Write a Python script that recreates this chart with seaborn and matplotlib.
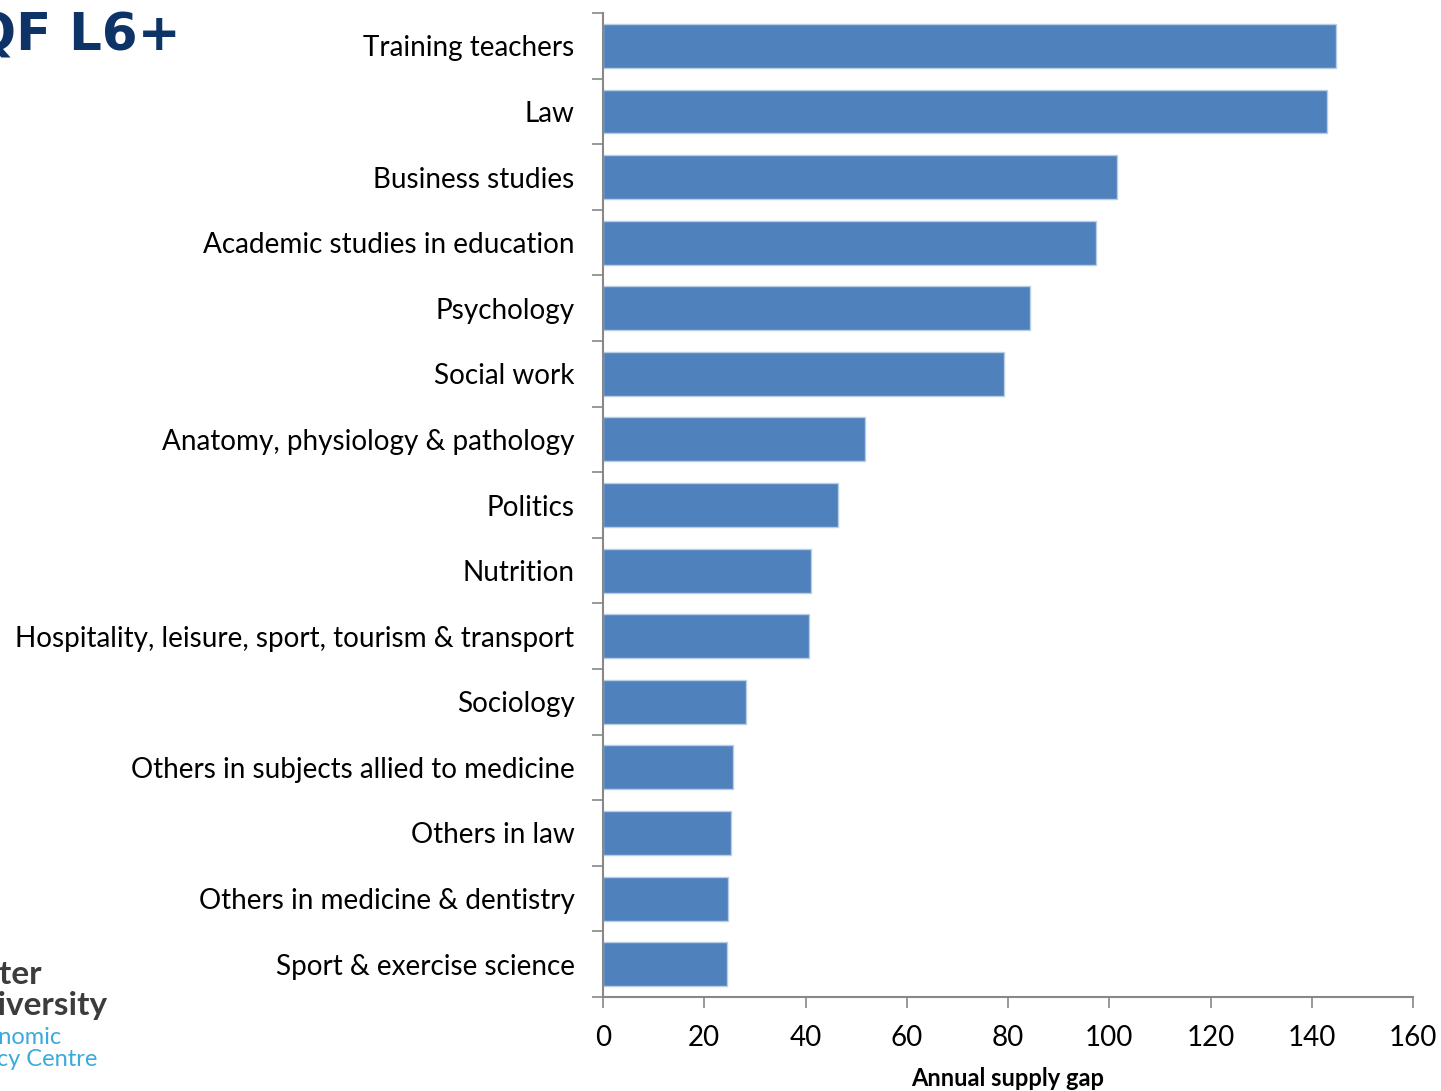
import pandas as pd
import seaborn as sns
import matplotlib.pyplot as plt
from matplotlib.ticker import FixedLocator

# Data
subjects = ['Training teachers', 'Law', 'Business studies', 'Academic studies in education',
            'Psychology', 'Social work', 'Anatomy, physiology & pathology', 'Politics',
            'Nutrition', 'Hospitality, leisure, sport, tourism & transport', 'Sociology',
            'Others in subjects allied to medicine', 'Others in law',
            'Others in medicine & dentistry', 'Sport & exercise science']
supply_gap = [144.8, 143.0, 101.5, 97.4, 84.3, 79.2, 51.8, 46.4, 41.1, 40.7,
              28.2, 25.7, 25.3, 24.7, 24.5]
x_ticks = [0, 20, 40, 60, 80, 100, 120, 140, 160]

df = pd.DataFrame({'subject': subjects, 'gap': supply_gap})

sns.set_style('white')
plt.rcParams['font.family'] = ['Lato', 'DejaVu Sans']

fig = plt.figure(figsize=(14.41, 10.91), dpi=100)
ax = fig.add_axes([0.4185, 0.0862, 0.5621, 0.9018])

sns.barplot(data=df, x='gap', y='subject', orient='h', color='#4F81BD',
            width=0.67, edgecolor='#B9CDE5', linewidth=1, saturation=1, ax=ax)

ax.set_xlim(0, 160)
ax.set_ylim(len(subjects) - 0.5, -0.5)
ax.set_xticks(x_ticks)
ax.set_xticklabels([str(t) for t in x_ticks], fontsize=20)
ax.set_yticks(range(len(subjects)))
ax.set_yticklabels(subjects, fontsize=20.1, color='black')
ax.tick_params(axis='y', which='major', left=False, pad=17)
# category boundary ticks on the y axis
ax.yaxis.set_minor_locator(FixedLocator([i - 0.5 for i in range(len(subjects) + 1)]))
ax.tick_params(axis='y', which='minor', left=True, length=8, color='#888888', width=1.2)
ax.tick_params(axis='x', bottom=True, length=8, color='#888888', width=1.2, pad=12,
               labelcolor='black')

for s in ['top', 'right']:
    ax.spines[s].set_visible(False)
for s in ['left', 'bottom']:
    ax.spines[s].set_color('#888888')
    ax.spines[s].set_linewidth(1.5)

ax.set_ylabel('')
ax.set_xlabel('Annual supply gap', fontsize=17, fontweight='bold', labelpad=12,
              color='black')

# cropped title and logo text at the left edge
fig.text(181 / 1441, 1 - 37 / 1091, 'RQF L6+', ha='right', va='center', fontsize=37,
         fontweight='bold', color='#0E3366', family='DejaVu Sans')
fig.text(42 / 1441, 1 - 975 / 1091, 'Ulster', ha='right', va='center', fontsize=24,
         fontweight='bold', color='#3C3C3C')
fig.text(108 / 1441, 1 - 1005 / 1091, 'University', ha='right', va='center', fontsize=24,
         fontweight='bold', color='#3C3C3C')
fig.text(62 / 1441, 1 - 1038 / 1091, 'Economic', ha='right', va='center', fontsize=17,
         color='#3BAADC')
fig.text(97 / 1441, 1 - 1060 / 1091, 'Policy Centre', ha='right', va='center', fontsize=17,
         color='#3BAADC')

plt.savefig('out.png', dpi=100)
